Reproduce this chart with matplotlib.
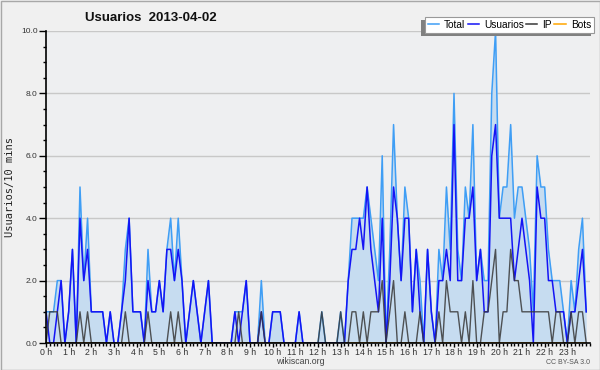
import matplotlib
matplotlib.use("Agg")
import matplotlib.pyplot as plt
from matplotlib.patches import Rectangle, Shadow
from matplotlib.lines import Line2D
from matplotlib.ticker import MultipleLocator, FixedLocator
import numpy as np

plt.rcParams["font.family"] = ["Liberation Sans", "DejaVu Sans"]

title = "Usuarios  2013-04-02"
ylabel = "Usuarios/10 mins"
series_names = ["Total", "Usuarios", "IP", "Bots"]
hour_labels = [f"{h} h" for h in range(24)]

# 10-minute slots, one row per 4 hours (24 values each)
usuarios = [
    1, 0, 0, 1, 2, 0, 1, 3, 0, 4, 2, 3, 1, 1, 1, 1, 0, 1, 0, 0, 1, 2, 4, 1,
    1, 1, 0, 2, 1, 1, 2, 1, 3, 3, 2, 3, 2, 0, 1, 2, 1, 0, 1, 2, 0, 0, 0, 0,
    0, 0, 1, 0, 1, 2, 0, 0, 0, 1, 0, 0, 1, 1, 1, 0, 0, 0, 0, 1, 0, 0, 0, 0,
    0, 0, 0, 0, 0, 0, 0, 0, 2, 3, 3, 4, 3, 5, 3, 2, 1, 4, 0, 2, 5, 4, 2, 4,
    4, 1, 3, 1, 0, 3, 1, 0, 2, 2, 3, 2, 7, 2, 2, 4, 4, 5, 2, 3, 1, 1, 6, 7,
    4, 4, 4, 4, 2, 3, 4, 3, 2, 0, 5, 4, 4, 2, 2, 1, 1, 1, 0, 1, 1, 2, 3, 1,
]
ip = [
    0, 1, 1, 1, 0, 0, 0, 0, 0, 1, 0, 1, 0, 0, 0, 0, 0, 0, 0, 0, 0, 1, 0, 0,
    0, 0, 0, 1, 0, 0, 0, 0, 0, 1, 0, 1, 0, 0, 0, 0, 0, 0, 0, 0, 0, 0, 0, 0,
    0, 0, 0, 1, 0, 0, 0, 0, 0, 1, 0, 0, 0, 0, 0, 0, 0, 0, 0, 0, 0, 0, 0, 0,
    0, 1, 0, 0, 0, 0, 1, 0, 0, 1, 1, 0, 1, 0, 1, 1, 1, 2, 0, 1, 2, 0, 0, 1,
    0, 0, 0, 1, 0, 0, 0, 0, 1, 0, 2, 1, 1, 1, 0, 1, 0, 2, 0, 0, 1, 1, 2, 3,
    0, 1, 1, 3, 2, 2, 1, 1, 1, 1, 1, 1, 1, 1, 0, 1, 1, 0, 0, 1, 0, 1, 1, 0,
]
total = [
    1, 1, 1, 2, 2, 0, 1, 3, 0, 5, 2, 4, 1, 1, 1, 1, 0, 1, 0, 0, 1, 3, 4, 1,
    1, 1, 0, 3, 1, 1, 2, 1, 3, 4, 2, 4, 2, 0, 1, 2, 1, 0, 1, 2, 0, 0, 0, 0,
    0, 0, 1, 1, 1, 2, 0, 0, 0, 2, 0, 0, 1, 1, 1, 0, 0, 0, 0, 1, 0, 0, 0, 0,
    0, 1, 0, 0, 0, 0, 1, 0, 2, 4, 4, 4, 4, 5, 4, 3, 2, 6, 0, 3, 7, 4, 2, 5,
    4, 1, 3, 2, 0, 3, 1, 0, 3, 2, 5, 3, 8, 3, 2, 5, 4, 7, 2, 3, 2, 2, 8, 10,
    4, 5, 5, 7, 4, 5, 5, 4, 3, 1, 6, 5, 5, 3, 2, 2, 2, 1, 0, 2, 1, 3, 4, 1,
]
bots = [0] * 144

hours = np.arange(len(total)) / 6.0

W, H = 600, 370
fig = plt.figure(figsize=(6, 3.7), dpi=100, facecolor="#F0F0F0")
ax = fig.add_axes([46 / W, 27 / H, 544 / W, 312 / H])
ax.set_facecolor("#EEEFF1")

c_total, c_fill, c_user, c_ip, c_bots = "#3F9EF5", "#C6DCF0", "#1414F5", "#383838", "#FFA500"

ax.fill_between(hours, total, 0, color=c_fill, lw=0, zorder=1)
ax.plot(hours, bots, color=c_bots, lw=1.1, zorder=1.5)
ax.plot(hours, total, color=c_total, lw=1.1, zorder=2)
ax.plot(hours, usuarios, color=c_user, lw=1.1, zorder=2.1)
ax.plot(hours, ip, color=c_ip, lw=1.0, alpha=0.85, zorder=2.2)

ax.set_xlim(0, 24)
ax.set_ylim(0, 10)
ax.set_yticks(np.arange(0, 10.01, 2))
ax.set_yticklabels([f"{v:.1f}" for v in np.arange(0, 10.01, 2)])
ax.yaxis.set_minor_locator(MultipleLocator(0.5))
ax.xaxis.set_major_locator(FixedLocator(np.arange(24)))
ax.set_xticklabels(hour_labels)
ax.xaxis.set_minor_locator(MultipleLocator(1 / 6))

ax.grid(axis="y", which="major", color="#C8C8C8", lw=1.0, zorder=0)
ax.set_axisbelow(True)
for s in ["top", "right"]:
    ax.spines[s].set_visible(False)
for s in ["left", "bottom"]:
    ax.spines[s].set_color("black")
    ax.spines[s].set_linewidth(1.2)
    ax.spines[s].set_zorder(3)

ax.tick_params(axis="y", which="major", direction="out", length=5, width=1,
               labelsize=6, colors="black", labelcolor="#333333", pad=1)
ax.tick_params(axis="y", which="minor", direction="out", length=2.2, width=1, colors="black")
ax.tick_params(axis="x", which="major", direction="out", length=3, width=1,
               labelsize=6.3, colors="black", labelcolor="#333333", pad=0.5)
ax.tick_params(axis="x", which="minor", direction="out", length=2.2, width=1, colors="black")

fig.text(10 / W, 1 - 187 / H, ylabel, rotation=90, ha="center", va="center",
         fontsize=7.5, family="DejaVu Sans Mono", color="#222222")
fig.text(85 / W, 1 - 18 / H, title, ha="left", va="center", fontsize=9.5,
         fontweight="bold", color="#111111")
fig.text(300 / W, 1 - 362 / H, "wikiscan.org", ha="center", va="center",
         fontsize=6.3, color="#444444")
fig.text(590 / W, 1 - 363 / H, "CC BY-SA 3.0", ha="right", va="center",
         fontsize=5, color="#555555")

handles = [Line2D([], [], color=c, lw=1.1) for c in (c_total, c_user, c_ip, c_bots)]
leg = fig.legend(handles, series_names, loc="upper right",
                 bbox_to_anchor=(594 / W, 1 - 17 / H), ncol=4, fontsize=7.3,
                 frameon=True, fancybox=False, edgecolor="#999999", framealpha=1,
                 handlelength=1.1, handletextpad=0.5, columnspacing=0.25,
                 borderpad=0.3, borderaxespad=0)
leg.get_frame().set_linewidth(0.8)
leg.set_zorder(10)

fig.canvas.draw()
sh = Shadow(leg.get_frame(), -2.2, -2.2, facecolor="#808080", edgecolor="none", alpha=1)
sh.set_zorder(9)
fig.add_artist(sh)
fig.patches.append(Rectangle((0.5 / W, 0.5 / H), (W - 1) / W, (H - 1) / H,
                             transform=fig.transFigure, fill=False,
                             edgecolor="#A8A8A8", lw=1, zorder=20))

fig.savefig("out.png", dpi=100, facecolor=fig.get_facecolor())
